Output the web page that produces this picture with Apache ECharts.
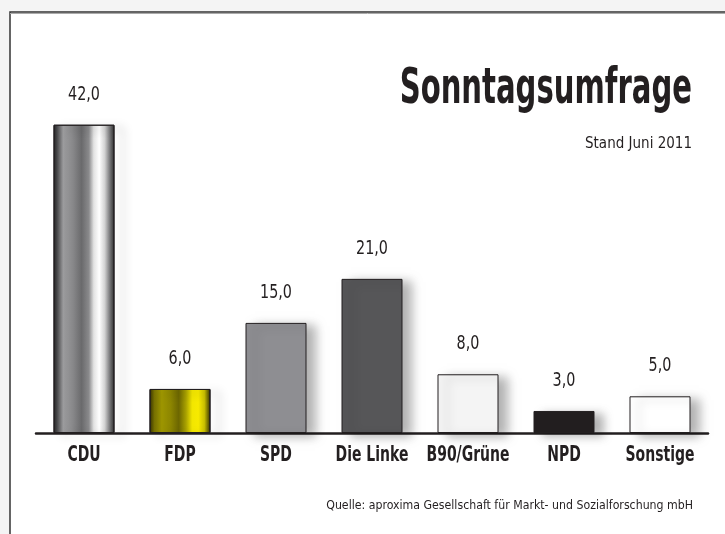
<!DOCTYPE html>
<html>
<head>
<meta charset="utf-8">
<script src="https://cdn.jsdelivr.net/npm/echarts@6/dist/echarts.min.js"></script>
<style>
  html, body { margin: 0; padding: 0; background: #f4f4f4; }
  #chart { width: 725px; height: 534px; }
</style>
</head>
<body>
<div id="chart"></div>
<script>
// Sonntagsumfrage, Stand Juni 2011
const categories = ['CDU', 'FDP', 'SPD', 'Die Linke', 'B90/Grüne', 'NPD', 'Sonstige']
const values = [42.0, 6.0, 15.0, 21.0, 8.0, 3.0, 5.0]

const font = "'Liberation Sans Narrow', 'DejaVu Sans Condensed', 'Roboto', sans-serif"
const ink = '#231f20'

function stripes (stops) {
  return new echarts.graphic.LinearGradient(0, 0, 1, 0, stops.map(s => ({ offset: s[0], color: s[1] })))
}

function fmt (v) {
  return v.toFixed(1).replace('.', ',')
}

// Balkenfarben je Partei
const barFills = [
  stripes([
    [0, '#222222'], [0.06, '#4a4a4c'], [0.16, '#a2a2a4'], [0.3, '#8c8c8e'],
    [0.46, '#6a6a6c'], [0.58, '#8a8a8c'], [0.66, '#e2e2e2'], [0.75, '#ffffff'],
    [0.84, '#d2d2d2'], [0.92, '#7c7c7e'], [1, '#2c2c2c']
  ]),
  stripes([
    [0, '#353000'], [0.08, '#7a7300'], [0.2, '#a39b00'], [0.35, '#8c8500'],
    [0.48, '#6c6600'], [0.6, '#aaa200'], [0.7, '#f2e600'], [0.8, '#f7ea00'],
    [0.9, '#c9bf00'], [0.96, '#6e6800'], [1, '#353000']
  ]),
  '#8e8e92',
  '#565658',
  '#f4f4f4',
  '#231f20',
  '#ffffff'
]

const chart = echarts.init(document.getElementById('chart'))

// schmale Schrift nachbilden: Text horizontal stauchen
function narrowText (x, y, text, size, weight, scale, align) {
  return {
    type: 'text',
    x: x,
    y: y,
    scaleX: scale,
    style: {
      text: text,
      font: weight + ' ' + size + 'px ' + font,
      fill: ink,
      textAlign: align,
      textVerticalAlign: 'middle'
    }
  }
}

const frame = [
  {
    type: 'rect',
    z: -10,
    shape: { x: 10, y: 12, width: 720, height: 530 },
    style: { fill: '#ffffff', stroke: '#333', lineWidth: 1.5 }
  },
  {
    type: 'line',
    z: -9,
    shape: { x1: 10, y1: 13.5, x2: 725, y2: 13.5 },
    style: { stroke: '#aaaaaa', lineWidth: 1 }
  },
  narrowText(692, 90, 'Sonntagsumfrage', 49, 'bold', 0.66, 'right'),
  narrowText(692, 144, 'Stand Juni 2011', 15, 'normal', 1, 'right'),
  narrowText(693, 506, 'Quelle: aproxima Gesellschaft für Markt- und Sozialforschung mbH', 13, 'normal', 0.94, 'right')
]

const option = {
  backgroundColor: '#f4f4f4',
  animation: false,
  graphic: frame,
  grid: {
    left: 36,
    width: 672,
    top: 66,
    bottom: 101
  },
  xAxis: {
    type: 'category',
    data: categories,
    axisTick: { show: false },
    axisLine: { lineStyle: { color: ink, width: 2.5 } },
    axisLabel: { show: false }
  },
  yAxis: {
    type: 'value',
    min: 0,
    max: 50,
    show: false,
    splitLine: { show: false }
  },
  series: [
    {
      type: 'bar',
      barWidth: 61,
      data: values.map((v, i) => ({
        value: v,
        itemStyle: { color: barFills[i] }
      })),
      itemStyle: {
        borderColor: ink,
        borderWidth: 1,
        shadowColor: 'rgba(0,0,0,0.3)',
        shadowBlur: 10,
        shadowOffsetX: 9,
        shadowOffsetY: 3
      }
    }
  ]
}

chart.setOption(option)

// Beschriftungen über die Achsen-Skalen positionieren
const labels = []
categories.forEach((cat, i) => {
  const base = chart.convertToPixel({ gridIndex: 0 }, [cat, 0])
  const top = chart.convertToPixel({ gridIndex: 0 }, [cat, values[i]])
  labels.push(narrowText(base[0], base[1] + 23, cat, 21, 'bold', 0.74, 'center'))
  labels.push(narrowText(top[0], top[1] - 30, fmt(values[i]), 19, 'normal', 0.84, 'center'))
})

chart.setOption({ graphic: frame.concat(labels) })
</script>
</body>
</html>
